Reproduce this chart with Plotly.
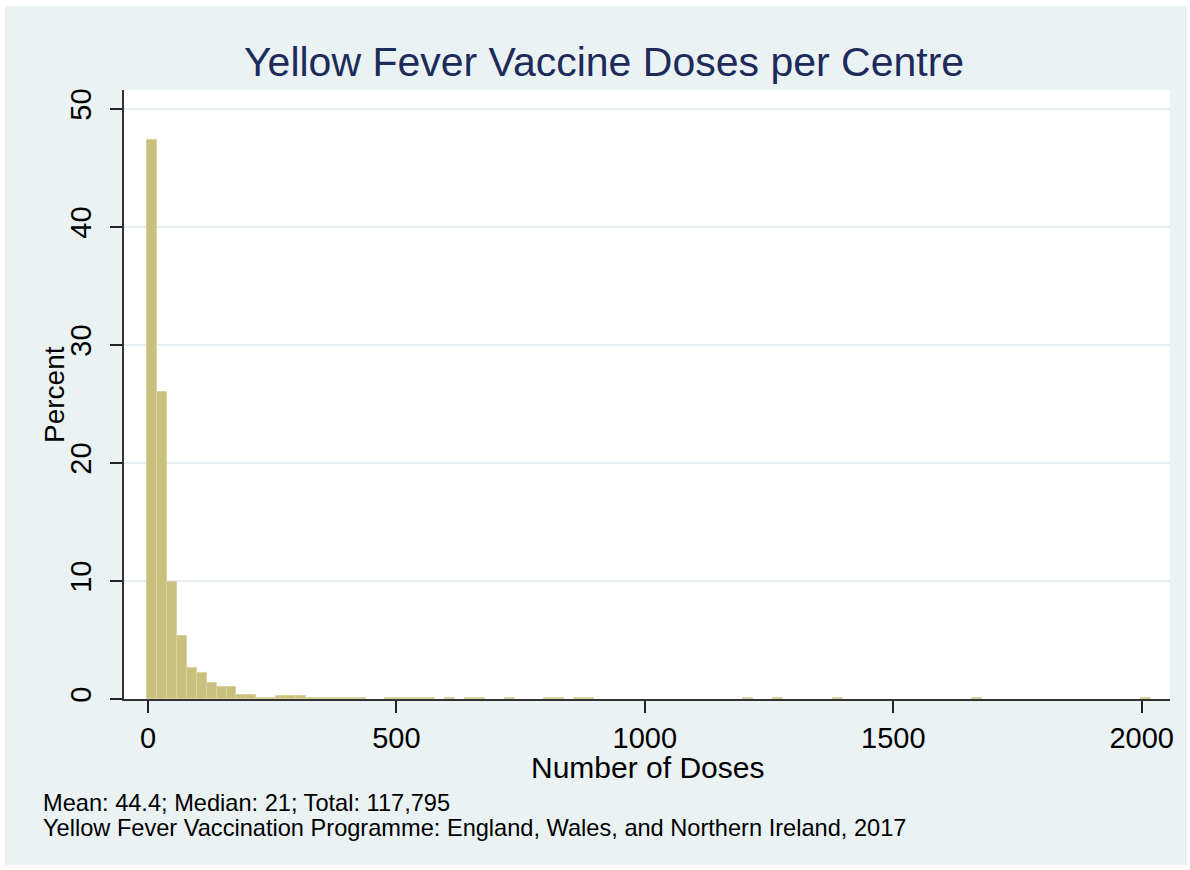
import plotly.graph_objects as go

# ---- data ----
BIN_START = -2
BIN_WIDTH = 20
percent = [
    47.4, 26.0, 9.9, 5.3, 2.6, 2.2, 1.35, 1.0, 1.0, 0.34,      # 0-9
    0.34, 0.075, 0.075, 0.23, 0.23, 0.23, 0.075, 0.075, 0.075, 0.075,  # 10-19
    0.075, 0.075, 0, 0, 0.075, 0.075, 0.075, 0.075, 0.075, 0,  # 20-29
    0.075, 0, 0.075, 0.075, 0, 0, 0.075, 0, 0, 0,              # 30-39
    0.075, 0.075, 0, 0.075, 0.075, 0, 0, 0, 0, 0,              # 40-49
    0, 0, 0, 0, 0, 0, 0, 0, 0, 0,                              # 50-59
    0.075, 0, 0, 0.075, 0, 0, 0, 0, 0, 0.075,                  # 60-69
    0, 0, 0, 0, 0, 0, 0, 0, 0, 0,                              # 70-79
    0, 0, 0, 0.075, 0, 0, 0, 0, 0, 0,                          # 80-89
    0, 0, 0, 0, 0, 0, 0, 0, 0, 0,                              # 90-99
    0.075,                                                     # 100
]
x_ticks = [0, 500, 1000, 1500, 2000]
y_ticks = [0, 10, 20, 30, 40, 50]

title = "Yellow Fever Vaccine Doses per Centre"
x_title = "Number of Doses"
y_title = "Percent"
note1 = "Mean: 44.4; Median: 21; Total: 117,795"
note2 = "Yellow Fever Vaccination Programme: England, Wales, and Northern Ireland, 2017"

# ---- build ----
xs, ys = [], []
for i, p in enumerate(percent):
    if p > 0:
        xs.append(BIN_START + BIN_WIDTH * (i + 0.5))
        ys.append(p)

FONT = "Arial, 'Liberation Sans', sans-serif"
W, H = 1190, 870
L, R, T, B = 124, 20, 90, 171
PW, PH = W - L - R, H - T - B


def px_x(px):
    return (px - L) / PW


def px_y(py):
    return (H - B - py) / PH


fig = go.Figure()
fig.add_trace(go.Bar(
    x=xs, y=ys, width=BIN_WIDTH,
    marker=dict(color="#c9c07e", line=dict(color="#d9d29f", width=1)),
    showlegend=False,
))

fig.update_layout(
    width=W, height=H,
    margin=dict(l=L, r=R, t=T, b=B),
    paper_bgcolor="#eaf2f3",
    plot_bgcolor="white",
    font=dict(family=FONT, color="black"),
    bargap=0,
    xaxis=dict(
        range=[-48.3, 2057], tickvals=x_ticks, ticks="outside", ticklen=12,
        tickwidth=1.5, tickcolor="#222", showline=True, linecolor="#333",
        linewidth=2, showgrid=False, zeroline=False,
        tickfont=dict(size=29, family=FONT), ticklabelstandoff=0,
    ),
    yaxis=dict(
        range=[0, 51.6], tickvals=y_ticks, ticks="outside", ticklen=12,
        tickwidth=1.5, tickcolor="#222", showline=True, linecolor="#333",
        linewidth=2, showgrid=True, gridcolor="#e4eef0", gridwidth=1.5,
        zeroline=False, tickangle=-90,
        tickfont=dict(size=29, family=FONT), ticklabelstandoff=7,
    ),
    annotations=[
        dict(text=title, xref="paper", yref="paper", x=px_x(603.5), y=px_y(62),
             xanchor="center", yanchor="middle", showarrow=False,
             font=dict(size=41, color="#1c2b5a", family=FONT)),
        dict(text=x_title, xref="paper", yref="paper", x=0.5, y=px_y(767),
             xanchor="center", yanchor="middle", showarrow=False,
             font=dict(size=30, family=FONT)),
        dict(text=y_title, xref="paper", yref="paper", x=px_x(55), y=px_y(395),
             xanchor="center", yanchor="middle", showarrow=False, textangle=-90,
             font=dict(size=28, family=FONT)),
        dict(text=note1, xref="paper", yref="paper", x=px_x(41), y=px_y(803),
             xanchor="left", yanchor="middle", showarrow=False,
             font=dict(size=23.6, family=FONT)),
        dict(text=note2, xref="paper", yref="paper", x=px_x(41), y=px_y(828),
             xanchor="left", yanchor="middle", showarrow=False,
             font=dict(size=23.6, family=FONT)),
    ],
    shapes=[
        dict(type="rect", xref="paper", yref="paper", x0=px_x(0), x1=px_x(W),
             y0=px_y(0), y1=px_y(6), fillcolor="white", line_width=0),
        dict(type="rect", xref="paper", yref="paper", x0=px_x(0), x1=px_x(5),
             y0=px_y(0), y1=px_y(H), fillcolor="white", line_width=0),
        dict(type="rect", xref="paper", yref="paper", x0=px_x(W - 3), x1=px_x(W),
             y0=px_y(0), y1=px_y(H), fillcolor="white", line_width=0),
        dict(type="rect", xref="paper", yref="paper", x0=px_x(0), x1=px_x(W),
             y0=px_y(H - 5), y1=px_y(H), fillcolor="white", line_width=0),
    ],
)

fig.write_html("out.html", config={"displayModeBar": False},
               post_script="document.body.style.margin='0';document.body.style.overflow='hidden';")
